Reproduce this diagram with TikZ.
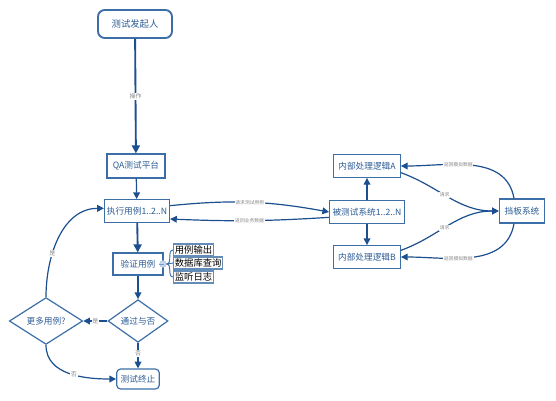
\documentclass[tikz,border=0pt]{standalone}
\usepackage{fontspec}
\setmainfont{Noto Sans CJK SC}
\usetikzlibrary{shapes.geometric,arrows.meta}
\definecolor{flowblue}{HTML}{1B4F8F}
\definecolor{boxblue}{HTML}{3C6FA8}
\definecolor{textblue}{HTML}{2B5C96}
\definecolor{notegray}{HTML}{8A8A8A}
\definecolor{dotblue}{HTML}{C9D8F0}
\tikzset{
  box/.style={draw=boxblue, line width=0.9pt, fill=white, text=textblue, font=\fontsize{6.5}{7}\selectfont, inner sep=1pt},
  endbox/.style={box, rounded corners=3pt},
  choice/.style={box, diamond, inner sep=0pt},
  tag/.style={draw=boxblue!80, line width=0.8pt, fill=white, text=black, font=\fontsize{7}{8}\selectfont, inner sep=1pt, anchor=west, minimum height=9pt},
  flow/.style={draw=flowblue, line width=1.4pt, -{Triangle[length=6pt,width=6pt]}},
  link/.style={draw=flowblue, line width=0.9pt, -{Triangle[length=5pt,width=5pt]}},
  note/.style={fill=white, text=notegray, font=\fontsize{3.6}{4}\selectfont, inner sep=0.6pt},
}

\begin{document}
\begin{tikzpicture}[x=0.75pt,y=-0.75pt]
\useasboundingbox (0,0) rectangle (556,400);
% left column
\node[endbox, line width=1.4pt, rounded corners=5pt, minimum width=55.5pt, minimum height=21pt, font=\fontsize{7}{8}\selectfont] (starter) at (135,24) {测试发起人};
\node[box, minimum width=43.5pt, minimum height=18pt] (qa) at (136,166) {QA测试平台};
\node[box, minimum width=48.75pt, minimum height=17pt] (exec) at (137,211) {执行用例1..2..N};
\node[box, minimum width=37.5pt, minimum height=16.5pt] (verify) at (138,264) {验证用例};
\node[choice, minimum width=45pt, minimum height=28.5pt] (pass) at (138,321) {通过与否};
\node[choice, minimum width=55pt, minimum height=28.5pt] (more) at (46,321) {更多用例?};
\node[endbox, minimum width=32pt, minimum height=15pt] (stop) at (138,379) {测试终止};

% checks
\node[circle, draw=dotblue!80!boxblue, fill=dotblue, inner sep=0pt, minimum size=5pt] (dot) at (163,264) {};
\node[tag] (output) at (173,250) {用例输出};
\node[tag] (dbquery) at (173,263) {数据库查询};
\node[tag] (logs) at (173,277) {监听日志};
\draw[boxblue!70, line width=0.6pt] (verify.east) -- (dot.west);
\foreach \t in {output,dbquery,logs}
  \draw[boxblue, line width=0.7pt] (dot.east) to[out=0,in=180] (\t.west);

% right side
\node[box, minimum width=56pt, minimum height=17pt] (sut) at (367,212) {被测试系统1..2..N};
\node[box, minimum width=50pt, minimum height=17pt] (logicA) at (367,166) {内部处理逻辑A};
\node[box, minimum width=50pt, minimum height=17pt] (logicB) at (367,257) {内部处理逻辑B};
\node[box, minimum width=34pt, minimum height=18pt] (shield) at (522,211) {挡板系统};

% main flow
\draw[flow] (starter) -- node[note, font=\fontsize{4.5}{5}\selectfont]{操作} (qa);
\draw[link] (qa) -- (exec);
\draw[flow] (exec) -- (verify);
\draw[link] (verify) -- (pass);
\draw[link] (pass) -- node[note, font=\fontsize{4.5}{5}\selectfont]{是} (more);
\draw[link] (pass) -- node[note, font=\fontsize{4.5}{5}\selectfont, pos=0.4]{否} (stop);
\draw[link] (more.north) to[out=90,in=180] node[note, font=\fontsize{4.5}{5}\selectfont, pos=0.35]{是} ([yshift=2pt]exec.west);
\draw[link] (more.south) to[out=-90,in=180] node[note, font=\fontsize{4.5}{5}\selectfont, pos=0.55]{否} (stop.west);

% calls
\draw[link] ([yshift=4pt]exec.east) to[bend left=8] node[note]{请求测试用例} (sut.west);
\draw[link] ([yshift=-4pt]sut.west) to[bend left=3] node[note]{返回业务数据} ([yshift=-6pt]exec.east);
\draw[link] (sut) -- (logicA);
\draw[link] (sut) -- (logicB);
\draw[link] ([yshift=-5pt]logicA.east) to[out=-20,in=180] node[note, pos=0.45]{请求} (shield.west);
\draw[link] ([xshift=-6pt]shield.north) to[out=100,in=0] node[note, pos=0.6]{返回模拟数据} (logicA.east);
\draw[link] ([yshift=5pt]logicB.east) to[out=20,in=180] node[note, pos=0.45]{请求} (shield.west);
\draw[link] ([xshift=-6pt]shield.south) to[out=-100,in=0] node[note, pos=0.6]{返回模拟数据} (logicB.east);
\end{tikzpicture}
\end{document}
